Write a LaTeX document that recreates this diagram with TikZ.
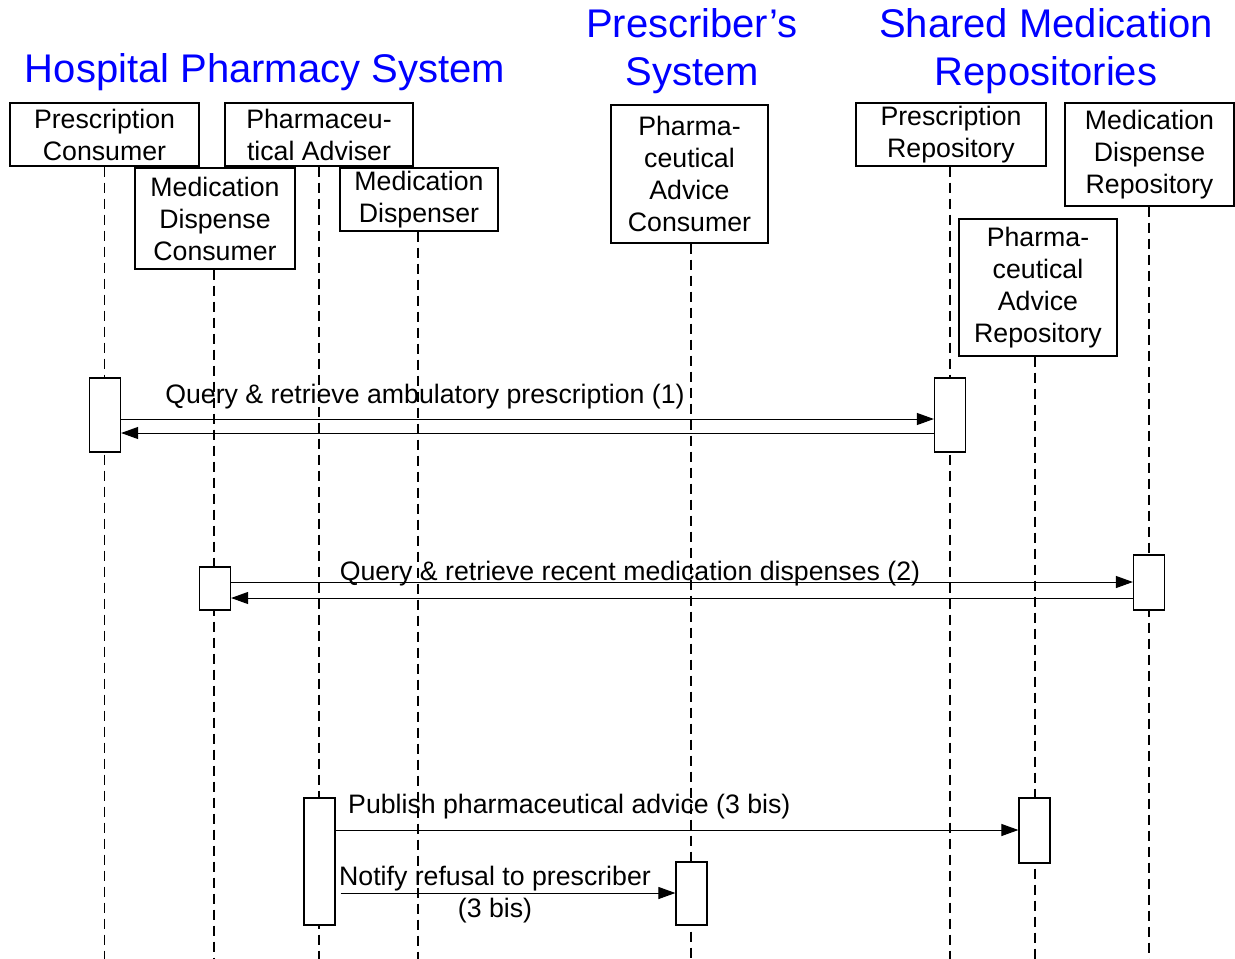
\documentclass[tikz,border=0pt]{standalone}
\usepackage{fontspec}
\setmainfont{Liberation Sans}
\usetikzlibrary{arrows.meta, calc}

\tikzset{
  hdrBox/.style={rectangle, draw, align=center, inner sep=0pt, line width=1.2pt, font=\fontsize{26.7}{32}\selectfont},
  actBox/.style={rectangle, draw, fill=white, inner sep=0pt, minimum width=31pt, line width=1.2pt},
  lifeLine/.style={dash pattern=on 10pt off 6pt, line width=1.2pt},
  msgLine/.style={-{Triangle[length=17pt,width=12pt]}, line width=1pt},
  msgText/.style={inner sep=0pt, font=\fontsize{26.7}{32}\selectfont},
  sysTitle/.style={text=blue, align=center, inner sep=0pt, font=\fontsize{40}{48}\selectfont}
}

\begin{document}
\begin{tikzpicture}[x=1pt, y=-1pt]
        \useasboundingbox (0,0) rectangle (1235,959);

        \node[sysTitle] (hospTitle) at (265,72) {Hospital Pharmacy System};
        \node[sysTitle] (prescTitle) at (692,51) {Prescriber's\\System};
        \node[sysTitle] (sharedTitle) at (1046,51) {Shared Medication\\Repositories};

        \node[hdrBox, minimum width=189pt, minimum height=63pt] (prescConsumer) at (104.5,134.5) {Prescription\\Consumer};
        \node[hdrBox, minimum width=188pt, minimum height=63pt] (pharmAdviser) at (319,134.5) {Pharmaceu-\\tical Adviser};
        \node[hdrBox, minimum width=160pt, minimum height=101pt] (dispConsumer) at (215,218.5) {Medication\\Dispense\\Consumer};
        \node[hdrBox, minimum width=158pt, minimum height=63pt] (medDispenser) at (419,199.5) {Medication\\Dispenser};
        \node[hdrBox, minimum width=157pt, minimum height=138pt] (adviceConsumer) at (689.5,174) {Pharma-\\ceutical\\Advice\\Consumer};
        \node[hdrBox, minimum width=190pt, minimum height=63pt] (prescRepo) at (951,134.5) {Prescription\\Repository};
        \node[hdrBox, minimum width=169pt, minimum height=103pt] (dispRepo) at (1149.5,154.5) {Medication\\Dispense\\Repository};
        \node[hdrBox, minimum width=158pt, minimum height=137pt] (adviceRepo) at (1038,287.5) {Pharma-\\ceutical\\Advice\\Repository};

        \coordinate (bot) at (0,959);
        \foreach \hdr/\dx in {prescConsumer/0, pharmAdviser/0, dispConsumer/-1, medDispenser/-1, adviceConsumer/1.5, prescRepo/-1, dispRepo/-0.5, adviceRepo/-3}
          \draw[lifeLine] ($(\hdr.south)+(\dx,0)$) -- ($(\hdr.south |- bot)+(\dx,0)$);

        \node[actBox, minimum height=74pt] (actPC) at (105,415) {};
        \node[actBox, minimum height=74pt] (actPR) at (950,415) {};
        \node[actBox, minimum height=43pt] (actDC) at (215,588.5) {};
        \node[actBox, minimum height=55pt] (actDR) at (1149,582.5) {};
        \node[actBox, minimum height=127pt] (actPA) at (319.5,861.5) {};
        \node[actBox, minimum height=65pt] (actAR) at (1034.5,830.5) {};
        \node[actBox, minimum height=63pt] (actAC) at (691.5,893.5) {};

        \coordinate (q1) at (0,419);
        \coordinate (r1) at (0,433);
        \coordinate (q2) at (0,582);
        \coordinate (r2) at (0,598);
        \coordinate (q3) at (0,830);
        \coordinate (q4) at (0,893);

        \draw[msgLine] (actPC.east |- q1) -- (actPR.west |- q1);
        \draw[msgLine] (actPR.west |- r1) -- (actPC.east |- r1);
        \draw[msgLine] (actDC.east |- q2) -- (actDR.west |- q2);
        \draw[msgLine] (actDR.west |- r2) -- (actDC.east |- r2);
        \draw[msgLine] (actPA.east |- q3) -- (actAR.west |- q3);
        \draw[msgLine, shorten <=5pt] (actPA.east |- q4) -- (actAC.west |- q4);

        \node[msgText] (lblOne) at (425,397) {Query \& retrieve ambulatory prescription (1)};
        \node[msgText] (lblTwo) at (630,574) {Query \& retrieve recent medication dispenses (2)};
        \node[msgText, anchor=west] (lblThree) at (348,807) {Publish pharmaceutical advice (3 bis)};
        \node[msgText, align=center] (lblFour) at (495,895) {Notify refusal to prescriber\\(3 bis)};
\end{tikzpicture}
\end{document}
